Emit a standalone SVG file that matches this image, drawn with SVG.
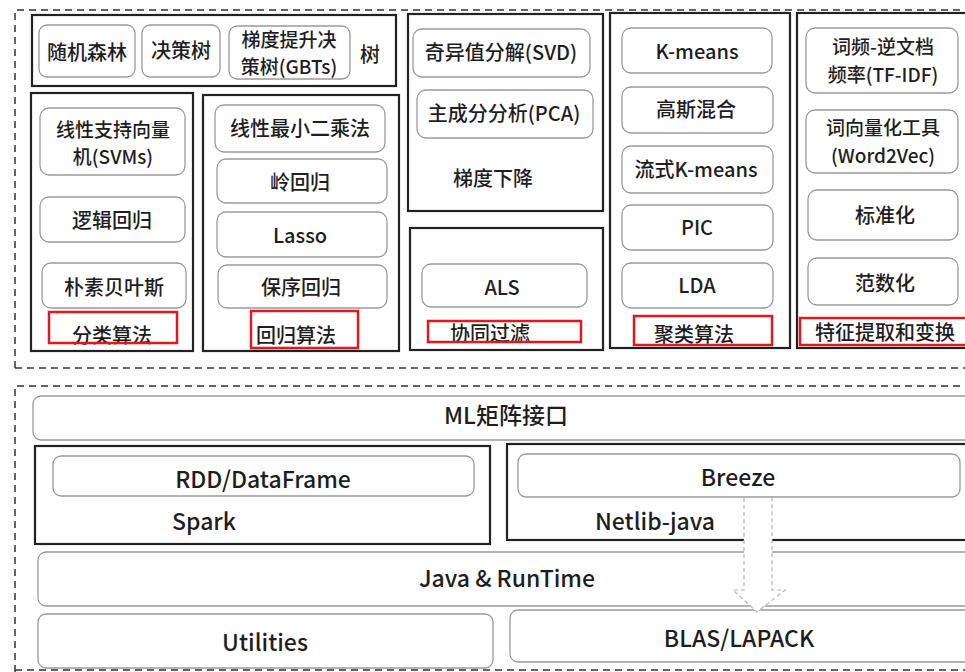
<svg xmlns="http://www.w3.org/2000/svg" width="965" height="672" viewBox="0 0 965 672">
<style>
  .frame{fill:none;stroke:#333;stroke-width:1.5;stroke-dasharray:7 5}
  .outer{fill:#fff;stroke:#222;stroke-width:2.2}
  .inner{fill:#fff;stroke:#9a9a9a;stroke-width:1.3}
  .red{fill:none;stroke:#e5161d;stroke-width:2.5}
  text{font-family:"Noto Sans CJK SC","Noto Sans",sans-serif;font-size:20px;fill:#1e1e1e;text-anchor:middle;dominant-baseline:central;font-weight:500}
  .t{font-size:19px}
  .b{font-size:23px}
</style>
<rect width="965" height="672" fill="#fff"/>

<!-- frames -->
<path class="frame" d="M15,368 V10 H970"/>
<path class="frame" d="M15,368 H970"/>
<path class="frame" d="M15,672 V386 H970"/>
<path class="frame" d="M15,670 H970"/>

<g id="tree">
  <rect class="outer" x="32" y="15" width="364" height="71"/>
  <rect class="inner" x="39" y="25" width="96" height="52" rx="8"/>
  <rect class="inner" x="142" y="25" width="78" height="52" rx="8"/>
  <rect class="inner" x="229" y="26" width="121" height="53" rx="8"/>
  <text x="87" y="51">随机森林</text>
  <text x="181" y="49">决策树</text>
  <text class="t" x="289" y="38">梯度提升决</text>
  <text class="t" x="289" y="65">策树(GBTs)</text>
  <text x="370" y="53">树</text>
</g>

<g id="classification">
  <rect class="outer" x="31" y="93" width="162" height="258"/>
  <rect class="inner" x="40" y="108" width="145" height="67" rx="9"/>
  <rect class="inner" x="40" y="197" width="145" height="45" rx="9"/>
  <rect class="inner" x="42" y="263" width="144" height="45" rx="9"/>
  <text class="t" x="113" y="128">线性支持向量</text>
  <text class="t" x="113" y="155">机(SVMs)</text>
  <text x="112" y="219">逻辑回归</text>
  <text x="114" y="286">朴素贝叶斯</text>
  <text x="112" y="334">分类算法</text>
  <rect class="red" x="49" y="312" width="128" height="31"/>
</g>

<g id="regression">
  <rect class="outer" x="203" y="95" width="196" height="256"/>
  <rect class="inner" x="215" y="105" width="170" height="47" rx="9"/>
  <rect class="inner" x="217" y="159" width="170" height="44" rx="9"/>
  <rect class="inner" x="217" y="212" width="170" height="45" rx="9"/>
  <rect class="inner" x="218" y="265" width="169" height="43" rx="9"/>
  <text x="300" y="127">线性最小二乘法</text>
  <text x="300" y="181">岭回归</text>
  <text x="300" y="234">Lasso</text>
  <text x="301" y="286">保序回归</text>
  <text x="296" y="334">回归算法</text>
  <rect class="red" x="251" y="311" width="107" height="37"/>
</g>

<g id="dimreduction">
  <rect class="outer" x="408" y="14" width="195" height="197"/>
  <rect class="inner" x="413" y="29" width="177" height="48" rx="9"/>
  <rect class="inner" x="417" y="90" width="176" height="48" rx="9"/>
  <text x="501" y="51">奇异值分解(SVD)</text>
  <text x="504" y="112">主成分分析(PCA)</text>
  <text x="493" y="177">梯度下降</text>
</g>

<g id="collab">
  <rect class="outer" x="410" y="228" width="193" height="122"/>
  <rect class="inner" x="422" y="264" width="165" height="43" rx="9"/>
  <text x="502" y="286">ALS</text>
  <text x="490" y="332">协同过滤</text>
  <rect class="red" x="428" y="321" width="153" height="21"/>
</g>

<g id="clustering">
  <rect class="outer" x="610" y="13" width="180" height="335"/>
  <rect class="inner" x="622" y="28" width="150" height="45" rx="9"/>
  <rect class="inner" x="622" y="87" width="151" height="46" rx="9"/>
  <rect class="inner" x="622" y="146" width="151" height="47" rx="9"/>
  <rect class="inner" x="622" y="205" width="151" height="45" rx="9"/>
  <rect class="inner" x="622" y="263" width="151" height="45" rx="9"/>
  <text x="697" y="50">K-means</text>
  <text x="696" y="108">高斯混合</text>
  <text x="696" y="168">流式K-means</text>
  <text x="697" y="226">PIC</text>
  <text x="697" y="284">LDA</text>
  <text x="694" y="333">聚类算法</text>
  <rect class="red" x="634" y="316" width="138" height="29"/>
</g>

<g id="feature">
  <rect class="outer" x="797" y="13" width="175" height="335"/>
  <rect class="inner" x="806" y="28" width="152" height="65" rx="9"/>
  <rect class="inner" x="806" y="110" width="152" height="63" rx="9"/>
  <rect class="inner" x="808" y="190" width="150" height="50" rx="9"/>
  <rect class="inner" x="808" y="258" width="150" height="47" rx="9"/>
  <text class="t" x="883" y="45">词频-逆文档</text>
  <text class="t" x="883" y="73">频率(TF-IDF)</text>
  <text class="t" x="883" y="126">词向量化工具</text>
  <text class="t" x="883" y="154">(Word2Vec)</text>
  <text x="885" y="214">标准化</text>
  <text x="885" y="282">范数化</text>
  <text x="885" y="331">特征提取和变换</text>
  <rect class="red" x="800" y="318" width="172" height="27"/>
</g>

<g id="mlmatrix">
  <rect class="inner" x="33" y="396" width="940" height="44" rx="8"/>
  <text class="b" x="506" y="414">ML矩阵接口</text>
</g>

<g id="spark">
  <rect class="outer" x="35" y="446" width="455" height="98"/>
  <rect class="inner" x="53" y="456" width="421" height="40" rx="8"/>
  <text class="b" x="263" y="478">RDD/DataFrame</text>
  <text class="b" x="204" y="520">Spark</text>
</g>

<g id="netlib">
  <rect class="outer" x="507" y="444" width="466" height="96"/>
  <rect class="inner" x="518" y="454" width="442" height="43" rx="8"/>
  <text class="b" x="738" y="476">Breeze</text>
  <text class="b" x="655" y="520">Netlib-java</text>
</g>

<g id="java">
  <rect class="inner" x="38" y="552" width="935" height="54" rx="8"/>
  <text class="b" x="507" y="577">Java &amp; RunTime</text>
</g>

<g id="utilities">
  <rect class="inner" x="38" y="614" width="455" height="54" rx="8"/>
  <text class="b" x="265" y="641">Utilities</text>
</g>

<g id="blas">
  <rect class="inner" x="510" y="610" width="463" height="52" rx="8"/>
  <text class="b" x="739" y="637">BLAS/LAPACK</text>
</g>

<g id="connectors">
  <path d="M744,498 V590 H733 L757,612 L785,590 H772 V498" fill="#fff" stroke="#b5b5b5" stroke-width="1.2" stroke-dasharray="4 3"/>
</g>
</svg>
